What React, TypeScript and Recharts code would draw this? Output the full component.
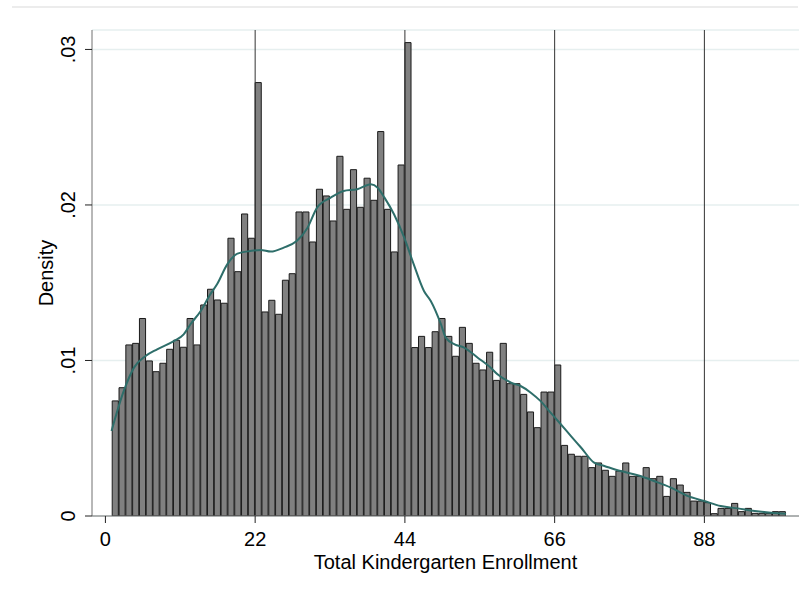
import React from "react";
import {
  ComposedChart,
  Bar,
  Line,
  XAxis,
  YAxis,
  CartesianGrid,
  ReferenceLine,
} from "recharts";

// histogram bins: left edge of each one-child-wide bin
const binStart: number[] = Array.from({ length: 99 }, (_, i) => i + 1);

const binDensity: number[] = [
  0.0074, 0.00825, 0.011, 0.0111, 0.0127, 0.00997, 0.00928, 0.00982, 0.01072, 0.0113,
  0.01085, 0.0127, 0.011, 0.01357, 0.01458, 0.01389, 0.01368, 0.01786, 0.01571, 0.01942,
  0.01786, 0.02787, 0.01312, 0.01387, 0.01297, 0.01516, 0.01558, 0.01955, 0.01955, 0.01762,
  0.02101, 0.02058, 0.01897, 0.02313, 0.01972, 0.02227, 0.01985, 0.02172, 0.0203, 0.02472,
  0.01972, 0.01698, 0.02257, 0.03044, 0.01083, 0.01155, 0.01083, 0.01185, 0.0127, 0.01155,
  0.01027, 0.01213, 0.0111, 0.00982, 0.00939, 0.01053, 0.00872, 0.0111, 0.00851, 0.00851,
  0.00782, 0.00669, 0.00568, 0.00797, 0.00797, 0.00971, 0.00454, 0.00397, 0.00384, 0.00384,
  0.00311, 0.00341, 0.00294, 0.00255, 0.00289, 0.00341, 0.00255, 0.00255, 0.00311, 0.0024,
  0.00255, 0.00126, 0.0024, 0.00199, 0.00152, 0.00096, 0.00096, 0.00086, 0.00015, 0.00049,
  0.00049, 0.00081, 0.00028, 0.00049, 0.00017, 0.00017, 0.00017, 0.00028, 0.00028,
];

// kernel density estimate
const kdeX: number[] = [
  0.9, 2.7, 4.2, 5.9, 7.6, 10.05, 11.5, 12.5, 14.0, 15.4, 16.4, 17.9, 19.4, 21.3, 22.8,
  24.3, 26.2, 28.1, 29.7, 31.1, 33.1, 35.0, 37.0, 39.0, 40.0, 41.0, 42.4, 43.9, 45.3,
  46.8, 47.8, 49.3, 50.0, 51.3, 52.7, 54.7, 56.6, 57.6, 59.6, 61.0, 62.5, 63.9, 65.4,
  66.9, 68.4, 69.9, 71.8, 73.3, 75.7, 78.2, 80.6, 83.1, 85.5, 88.0, 90.4, 92.9, 95.4,
  97.8, 100,
];
const kdeY: number[] = [
  0.00547, 0.00804, 0.00954, 0.01029, 0.01072, 0.01125, 0.01168, 0.01233, 0.01318,
  0.01425, 0.0149, 0.01618, 0.01687, 0.01704, 0.01711, 0.017, 0.01726, 0.01768, 0.01854,
  0.01983, 0.02047, 0.0209, 0.02101, 0.02133, 0.02111, 0.02047, 0.0194, 0.0179, 0.01618,
  0.01447, 0.01383, 0.01233, 0.01147, 0.01104, 0.01083, 0.01018, 0.00954, 0.00911,
  0.00857, 0.00836, 0.00793, 0.0074, 0.00665, 0.0059, 0.00514, 0.00439, 0.00343, 0.00322,
  0.00289, 0.00262, 0.00225, 0.00182, 0.00129, 0.00096, 0.00064, 0.00049, 0.00032,
  0.00021, 0.00015,
];

const xTicks = [0, 22, 44, 66, 88];
const yTicks = [0, 0.01, 0.02, 0.03];
const cutoffs = [22, 44, 66, 88];

const histRows = binStart.map((s, i) => ({ x: s + 0.5, density: binDensity[i] }));
const kdeRows = kdeX.map((x, i) => ({ x, kde: kdeY[i] }));

const W = 806;
const H = 592;
const M = { top: 30, right: 7, left: 0, bottom: 0 };
const Y_AXIS_W = 92;
const X_AXIS_H = 76;
const X_DOMAIN: [number, number] = [-1.97, 101.9];
const Y_DOMAIN: [number, number] = [0, 0.03125];

const plotW = W - M.left - M.right - Y_AXIS_W;
const unitPx = plotW / (X_DOMAIN[1] - X_DOMAIN[0]);

const FONT = "'Liberation Sans', Arial, sans-serif";

const fmtY = (v: number) => (v === 0 ? "0" : String(v).replace(/^0/, ""));

function YTick(props: any) {
  const { x, y, payload } = props;
  return (
    <text
      x={x}
      y={y}
      transform={`rotate(-90, ${x}, ${y})`}
      textAnchor="middle"
      fontFamily={FONT}
      fontSize={20}
      fill="#000"
    >
      {fmtY(payload.value)}
    </text>
  );
}

export default function App() {
  return (
    <div style={{ position: "absolute", left: 0, top: 0, width: W, height: H, background: "#fff" }}>
      <div
        style={{
          position: "absolute",
          left: 12,
          top: 6,
          width: 786,
          borderTop: "2px solid #ececec",
        }}
      />
      <ComposedChart width={W} height={H} data={histRows} margin={M} barCategoryGap={0} barGap={0}>
        <CartesianGrid vertical={false} stroke="#e6efef" strokeWidth={1.5} />
        <XAxis
          dataKey="x"
          type="number"
          domain={X_DOMAIN}
          ticks={xTicks}
          allowDataOverflow
          height={X_AXIS_H}
          stroke="#707070"
          tickLine={{ stroke: "#222" }}
          tickSize={7}
          tickMargin={9}
          tick={{ fill: "#000", fontSize: 20, fontFamily: FONT }}
          label={(p: any) => {
            const vb = p.viewBox;
            return (
              <text
                x={vb.x + vb.width / 2}
                y={vb.y + 53}
                textAnchor="middle"
                fontFamily={FONT}
                fontSize={20}
                fill="#000"
              >
                Total Kindergarten Enrollment
              </text>
            );
          }}
        />
        <XAxis xAxisId="kde" dataKey="x" type="number" domain={X_DOMAIN} allowDataOverflow hide />
        <YAxis
          type="number"
          domain={Y_DOMAIN}
          ticks={yTicks}
          allowDataOverflow
          width={Y_AXIS_W}
          stroke="#707070"
          tickLine={{ stroke: "#222" }}
          tickSize={7}
          tickMargin={10}
          tick={<YTick />}
          label={(p: any) => {
            const vb = p.viewBox;
            const cy = vb.y + vb.height / 2;
            return (
              <text
                x={53}
                y={cy}
                transform={`rotate(-90, 53, ${cy})`}
                textAnchor="middle"
                fontFamily={FONT}
                fontSize={20}
                fill="#000"
              >
                Density
              </text>
            );
          }}
        />
        <Bar
          dataKey="density"
          fill="#808080"
          stroke="#1a1a1a"
          strokeWidth={1}
          barSize={unitPx}
          isAnimationActive={false}
        />
        {cutoffs.map((c) => (
          <ReferenceLine key={c} x={c} stroke="#333" strokeWidth={1} />
        ))}
        <Line
          xAxisId="kde"
          data={kdeRows}
          dataKey="kde"
          type="monotone"
          stroke="#2e6e6a"
          strokeWidth={2}
          dot={false}
          isAnimationActive={false}
        />
      </ComposedChart>
    </div>
  );
}
